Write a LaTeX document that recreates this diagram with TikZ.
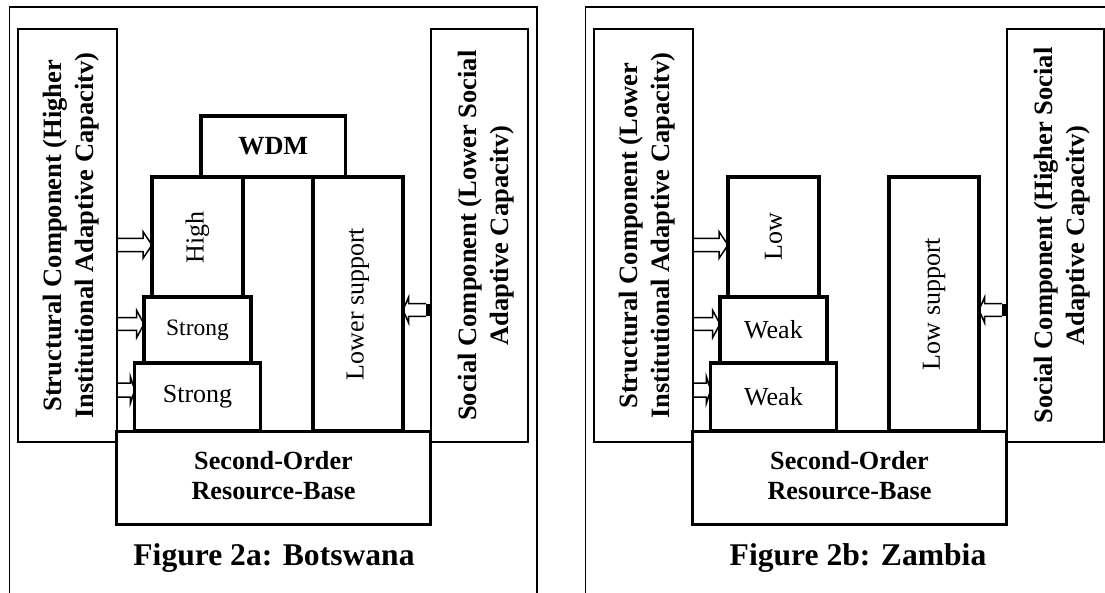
\documentclass[tikz,border=0pt]{standalone}
\usepackage{fontspec}
\setmainfont{Liberation Serif}
\usetikzlibrary{calc}
\newcommand\fsz[2]{\fontsize{#1}{#2}\selectfont}
% right-pointing hollow arrow: #1 tail coord, #2 tip coord, #3 head length, #4 shaft half, #5 head half
\newcommand\rarrow[5]{%
  \draw[arr] (#1) ++(0,-#4) -- ($(#2)+(-#3,-#4)$) -- ($(#2)+(-#3,-#5)$) -- (#2)
    -- ($(#2)+(-#3,#5)$) -- ($(#2)+(-#3,#4)$) -- ($(#1)+(0,#4)$);}
\newcommand\larrow[5]{%
  \draw[arr] (#1) ++(0,-#4) -- ($(#2)+(#3,-#4)$) -- ($(#2)+(#3,-#5)$) -- (#2)
    -- ($(#2)+(#3,#5)$) -- ($(#2)+(#3,#4)$) -- ($(#1)+(0,#4)$);}
\begin{document}
\begin{tikzpicture}[x=1pt,y=-1pt,
  outerframe/.style={draw, line width=1.8pt, inner sep=0pt, outer sep=0pt},
  sidebox/.style={draw, line width=2pt, inner sep=0pt, outer sep=0pt},
  box/.style={draw, line width=3.3pt, inner sep=0pt, outer sep=0pt},
  basebox/.style={draw, fill=white, line width=3pt, inner sep=0pt, outer sep=0pt},
  sidelab/.style={rotate=90, align=center, font=\bfseries\fsz{26.5}{32}},
  lab/.style={font=\fsz{26}{30}},
  baselab/.style={align=center, font=\bfseries\fsz{26.2}{30}},
  figcap/.style={font=\bfseries\fsz{31.6}{36}},
  arr/.style={draw, line width=1.5pt, line join=miter}]
\useasboundingbox (0,0) rectangle (1105,592);
\clip (0,0) rectangle (1105,592);
\fill[white] (0,0) rectangle (1105,592);

% ================= Panel A (Botswana) =================
\node[outerframe, minimum width=527.5, minimum height=603] (frameA) at (273.25,308.5) {};
\node[sidebox, minimum width=99, minimum height=412.7] (structA) at (67.5,235.65) {};
\node[sidebox, minimum width=97.5, minimum height=412.7] (socA) at (479.25,235.65) {};
\node[sidelab] at ($(structA.center)+(4,0)$) {Structural Component (Higher\\Institutional Adaptive Capacitv)};
\node[sidelab] at ($(socA.center)+(7,0)$) {Social Component (Lower Social\\Adaptive Capacitv)};
\node[basebox, minimum width=314, minimum height=93] (baseA) at (273.5,477.5) {};
\node[baselab] at ($(baseA.center)+(0,-2)$) {Second-Order\\Resource-Base};
\node[box, minimum width=144.6, minimum height=61] (wdmA) at (273.3,146.5) {};
\node[font=\bfseries\fsz{26.2}{30}] at (wdmA.center) {WDM};
\node[box, minimum width=91, minimum height=120] (highA) at (197.5,237) {};
\node[lab, rotate=90] at (highA.center) {High};
\node[box, minimum width=90, minimum height=254] (lsA) at (358,304) {};
\node[lab, rotate=90] at (lsA.center) {Lower support};
\node[box, minimum width=107, minimum height=66] (s1A) at (197.5,330) {};
\node[font=\fsz{23.5}{28}] at (s1A.center) {Strong};
\node[box, minimum width=125.5, minimum height=68] (s2A) at (197.5,397) {};
\node[lab] at (s2A.center) {Strong};
\node[figcap] (capA) at (274,558) {Figure 2a: Botswana};

\coordinate (a1t) at (structA.east |- 0,245);
\coordinate (a1h) at (highA.west |- 0,245);
\coordinate (a2t) at (structA.east |- 0,324);
\coordinate (a2h) at (s1A.west |- 0,324);
\coordinate (a3t) at (structA.east |- 0,390);
\coordinate (a3h) at (s2A.west |- 0,390);
\coordinate (a4t) at ($(socA.west |- 0,310)+(-4.5,0)$);
\coordinate (a4h) at (lsA.east |- 0,310);
\rarrow{a1t}{a1h}{9}{6.7}{13.3}
\rarrow{a2t}{a2h}{7.3}{6.3}{13.5}
\rarrow{a3t}{a3h}{4.5}{7}{13.7}
\larrow{a4t}{a4h}{5.7}{6.3}{13}
\fill ($(a4t)+(0,-6.3)$) rectangle ($(socA.west |- 0,310)+(0,6.3)$);

% ================= Panel B (Zambia) =================
\begin{scope}[xshift=576pt]
\node[outerframe, minimum width=527.5, minimum height=603] (frameB) at (273.25,308.5) {};
\node[sidebox, minimum width=99, minimum height=412.7] (structB) at (67.5,235.65) {};
\node[sidebox, minimum width=97.5, minimum height=412.7] (socB) at (479.25,235.65) {};
\node[sidelab] at ($(structB.center)+(4,0)$) {Structural Component (Lower\\Institutional Adaptive Capacitv)};
\node[sidelab] at ($(socB.center)+(7,0)$) {Social Component (Higher Social\\Adaptive Capacitv)};
\node[basebox, minimum width=314, minimum height=93] (baseB) at (273.5,477.5) {};
\node[baselab] at ($(baseB.center)+(0,-2)$) {Second-Order\\Resource-Base};
\node[box, minimum width=91, minimum height=120] (lowB) at (197.5,237) {};
\node[lab, rotate=90] at (lowB.center) {Low};
\node[box, minimum width=90, minimum height=254] (lsB) at (358,304) {};
\node[lab, rotate=90] at (lsB.center) {Low support};
\node[box, minimum width=107, minimum height=66] (w1B) at (197.5,330) {};
\node[lab] at (w1B.center) {Weak};
\node[box, minimum width=125.5, minimum height=68] (w2B) at (197.5,397) {};
\node[lab] at (w2B.center) {Weak};
\node[figcap] (capB) at (282,558) {Figure 2b: Zambia};

\coordinate (b1t) at (structB.east |- 0,245);
\coordinate (b1h) at (lowB.west |- 0,245);
\coordinate (b2t) at (structB.east |- 0,324);
\coordinate (b2h) at (w1B.west |- 0,324);
\coordinate (b3t) at (structB.east |- 0,390);
\coordinate (b3h) at (w2B.west |- 0,390);
\coordinate (b4t) at ($(socB.west |- 0,310)+(-4.5,0)$);
\coordinate (b4h) at (lsB.east |- 0,310);
\rarrow{b1t}{b1h}{9}{6.7}{13.3}
\rarrow{b2t}{b2h}{7.3}{6.3}{13.5}
\rarrow{b3t}{b3h}{4.5}{7}{13.7}
\larrow{b4t}{b4h}{5.7}{6.3}{13}
\fill ($(b4t)+(0,-6.3)$) rectangle ($(socB.west |- 0,310)+(0,6.3)$);
\end{scope}
\end{tikzpicture}
\end{document}
